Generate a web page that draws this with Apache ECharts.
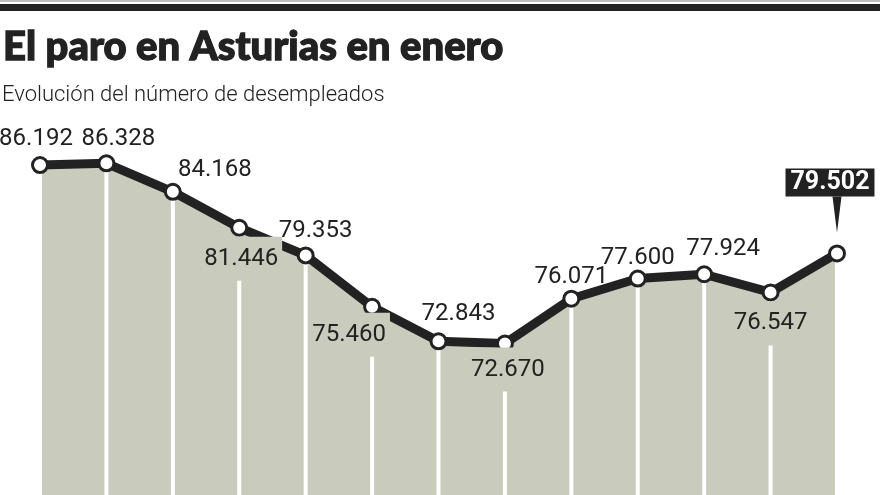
<!DOCTYPE html>
<html><head><meta charset="utf-8">
<script src="https://cdn.jsdelivr.net/npm/echarts@6/dist/echarts.min.js"></script>
<style>html,body{margin:0;padding:0;background:#fff}#c{width:880px;height:495px}</style>
</head><body><div id="c"></div>
<script>
const categories = ['1','2','3','4','5','6','7','8','9','10','11','12','13'];
const values = [86192, 86328, 84168, 81446, 79353, 75460, 72843, 72670, 76071, 77600, 77924, 76547, 79502];
const labelTexts = ['86.192','86.328','84.168','81.446','79.353','75.460','72.843','72.670','76.071','77.600','77.924','76.547','79.502'];

// label layout (offset of label centre from the point), separate from data
const labelSide = ['top','top','top','bottom','top','bottom','top','bottom','top','top','top','bottom','highlight'];
const labelDx = [-4, 12, 42, 2, 10, -23, 20, 3, 0, 0, 19, 0, -7];
const labelDy = [-26, -24, -22, 27, -24, 24, -27, 22, -22, -21, -25, 27, -71];

const AREA = '#c9cbbc';
const INK = '#222222';

const chart = echarts.init(document.getElementById('c'));

const lineData = values.map((v, i) => {
  const side = labelSide[i];
  let label;
  if (side === 'highlight') {
    label = {
      show: true, position: 'inside', offset: [labelDx[i], labelDy[i]],
      formatter: labelTexts[i], color: '#fff', fontFamily: 'Roboto', fontWeight: 'bold',
      fontSize: 25, backgroundColor: INK, padding: [2, 5, 1, 5]
    };
  } else if (side === 'bottom') {
    label = {
      show: true, position: 'inside', offset: [labelDx[i], labelDy[i] + 4],
      formatter: labelTexts[i], color: INK, fontFamily: 'Roboto', fontWeight: 400,
      fontSize: 24, backgroundColor: AREA, padding: [6, 4, 14, 4]
    };
  } else {
    label = {
      show: true, position: 'inside', offset: [labelDx[i], labelDy[i]],
      formatter: labelTexts[i], color: INK, fontFamily: 'Roboto', fontWeight: 400, fontSize: 24
    };
  }
  return { value: v / 1000, label };
});

const vals = values.map(v => v / 1000);

chart.setOption({
  animation: false,
  title: [
    { text: 'El paro en Asturias en enero', left: 3, top: 27, padding: 0,
      textStyle: { fontFamily: 'Lato', fontWeight: 900, fontSize: 40, color: INK,
                   textBorderColor: INK, textBorderWidth: 1.3 } },
    { text: 'Evolución del número de desempleados', left: 2, top: 84, padding: 0,
      textStyle: { fontFamily: 'Roboto', fontWeight: 300, fontSize: 22, color: INK } }
  ],
  graphic: [
    { type: 'rect', shape: { x: 0, y: 0, width: 880, height: 2 }, style: { fill: '#bdbdbd' } },
    { type: 'rect', shape: { x: 0, y: 4, width: 880, height: 7 }, style: { fill: INK } }
  ],
  grid: { left: 40, right: 43, top: 0, bottom: 0 },
  xAxis: { type: 'category', data: categories, boundaryGap: false, show: false },
  yAxis: { type: 'value', min: 61.2, max: 98.7, show: false },
  series: [
    { type: 'line', data: vals, symbol: 'none', lineStyle: { width: 0 },
      areaStyle: { color: AREA, opacity: 1 }, z: 1, silent: true },
    { type: 'bar', data: vals, barWidth: 4, itemStyle: { color: '#ffffff' }, z: 2, silent: true },
    { type: 'line', data: lineData, z: 3,
      lineStyle: { color: INK, width: 9 },
      symbol: 'circle', symbolSize: 15,
      itemStyle: { color: '#ffffff', borderColor: INK, borderWidth: 3 },
      markPoint: {
        symbol: 'path://M0,0 L10,0 L5,36 Z', symbolSize: [9, 36], symbolOffset: [0, -39],
        itemStyle: { color: INK }, label: { show: false },
        data: [{ coord: [categories.length - 1, vals[vals.length - 1]] }]
      }
    }
  ]
});
</script></body></html>
